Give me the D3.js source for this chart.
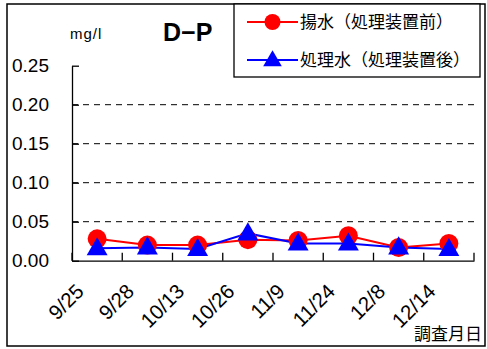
<!DOCTYPE html>
<html>
<head>
<meta charset="utf-8">
<script src="https://cdn.jsdelivr.net/npm/d3@7"></script>
<style>
body{margin:0;background:#fff;}
svg{display:block;}
</style>
</head>
<body>
<script>
const categories = ["9/25","9/28","10/13","10/26","11/9","11/24","12/8","12/14"];
const pumped = [0.028,0.020,0.020,0.027,0.026,0.032,0.017,0.022];   // 揚水（処理装置前）
const treated = [0.016,0.017,0.015,0.035,0.022,0.022,0.017,0.015]; // 処理水（処理装置後）
const yTicks = [0.00,0.05,0.10,0.15,0.20,0.25];
const seriesNames = ["揚水（処理装置前）","処理水（処理装置後）"];

const W = 487, H = 349;
const svg = d3.select("body").append("svg").attr("width",W).attr("height",H);

const numFont = "'Liberation Sans', Arial, sans-serif";
const jpFont = "'Noto Sans CJK JP', sans-serif";

// outer frame
svg.append("rect").attr("x",7).attr("y",4).attr("width",478).attr("height",342)
  .attr("fill","#fff").attr("stroke","#000").attr("stroke-width",1.5);

const x0 = 72, x1 = 474, yTop = 65.7, yBot = 260.7;
const x = d3.scaleBand().domain(categories).range([x0,x1]);
const y = d3.scaleLinear().domain([0,0.25]).range([yBot,yTop]);

// grid
svg.append("g").selectAll("line").data(yTicks.filter(v=>v>0 && v<0.25)).join("line")
  .attr("x1",x0).attr("x2",x1).attr("y1",d=>y(d)).attr("y2",d=>y(d))
  .attr("stroke","#000").attr("stroke-width",1).attr("stroke-dasharray","6,5");

// y axis
const yAxis = d3.axisLeft(y).tickValues(yTicks).tickFormat(d3.format(".2f")).tickSizeInner(-7).tickSizeOuter(0).tickPadding(23);
const gy = svg.append("g").attr("transform",`translate(${x0},0)`).call(yAxis);
gy.select(".domain").attr("stroke","#000").attr("stroke-width",1.3);
gy.selectAll(".tick line").attr("stroke","#000").attr("stroke-width",1.3);
gy.selectAll(".tick text").attr("font-family",numFont).attr("font-size",19).attr("fill","#000");

// x axis
const xAxis = d3.axisBottom(x).tickSizeInner(0).tickSizeOuter(0).tickFormat("");
const gx = svg.append("g").attr("transform",`translate(0,${yBot})`).call(xAxis);
gx.select(".domain").attr("stroke","#000").attr("stroke-width",1.3);
gx.selectAll(".tick").remove();
// category boundary ticks (inside)
const bounds = categories.map(c=>x(c)).concat([x1]);
svg.append("g").selectAll("line").data(bounds).join("line")
  .attr("x1",d=>d).attr("x2",d=>d).attr("y1",yBot).attr("y2",yBot-8)
  .attr("stroke","#000").attr("stroke-width",1.3);

// x labels
svg.append("g").selectAll("text").data(categories).join("text")
  .attr("transform",d=>`translate(${x(d)+x.bandwidth()/2-12},${yBot+32}) rotate(-45)`)
  .attr("text-anchor","end")
  .attr("font-family",numFont).attr("font-size",20.5).attr("fill","#000")
  .text(d=>d);

const cx = d=>x(d)+x.bandwidth()/2;
const line = d3.line().x((d,i)=>cx(categories[i])).y(d=>y(d));

svg.append("path").datum(pumped).attr("d",line).attr("fill","none")
  .attr("stroke","#ff0000").attr("stroke-width",2);
svg.append("path").datum(treated).attr("d",line).attr("fill","none")
  .attr("stroke","#0000ff").attr("stroke-width",2);

svg.append("g").selectAll("circle").data(pumped).join("circle")
  .attr("cx",(d,i)=>cx(categories[i])).attr("cy",d=>y(d)).attr("r",9.5)
  .attr("fill","#ff0000");

const tri = d3.symbol().type(d3.symbolTriangle).size(190);
svg.append("g").selectAll("path").data(treated).join("path")
  .attr("d",tri).attr("transform",(d,i)=>`translate(${cx(categories[i])},${y(d)+1})`)
  .attr("fill","#0000ff");

// unit and title
svg.append("text").attr("x",70).attr("y",39).attr("font-family",numFont)
  .attr("font-size",15).attr("letter-spacing",1).attr("fill","#000").text("mg/l");
svg.append("text").attr("x",163).attr("y",41).attr("font-family",numFont)
  .attr("font-size",25).attr("font-weight","bold").attr("fill","#000").text("D\u2212P");

// x axis title
svg.append("text").attr("x",482).attr("y",340).attr("text-anchor","end")
  .attr("font-family",jpFont).attr("font-size",17).attr("fill","#000").text("調査月日");

// legend
const lg = svg.append("g");
lg.append("rect").attr("x",234).attr("y",4).attr("width",246).attr("height",73)
  .attr("fill","#fff").attr("stroke","#000").attr("stroke-width",1.3);
const legY = [22,60];
const colors = ["#ff0000","#0000ff"];
legY.forEach((ly,i)=>{
  lg.append("line").attr("x1",247).attr("x2",298).attr("y1",ly).attr("y2",ly)
    .attr("stroke",colors[i]).attr("stroke-width",2);
  if(i===0){
    lg.append("circle").attr("cx",272.5).attr("cy",ly).attr("r",8).attr("fill",colors[i]);
  } else {
    lg.append("path").attr("d",d3.symbol().type(d3.symbolTriangle).size(150))
      .attr("transform",`translate(272.5,${ly+1})`).attr("fill",colors[i]);
  }
  lg.append("text").attr("x",300).attr("y",ly+6).attr("font-family",jpFont)
    .attr("font-size",17).attr("fill","#000").text(seriesNames[i]);
});
</script>
</body>
</html>
